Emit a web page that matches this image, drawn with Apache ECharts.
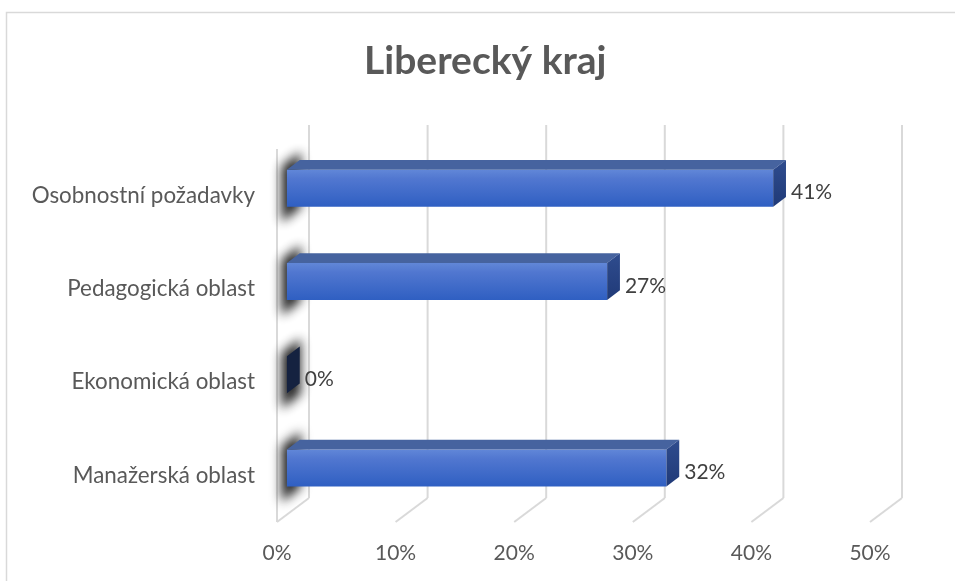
<!DOCTYPE html>
<html>
<head>
    <meta charset="UTF-8">
    <title>Liberecký kraj</title>
    <script src="https://cdn.jsdelivr.net/npm/echarts@6/dist/echarts.min.js"></script>
    <style>
        html, body { margin: 0; padding: 0; background: #fff; }
        #chart { width: 955px; height: 581px; }
    </style>
</head>
<body>
<div id="chart"></div>
<script>
    const categories = ['Manažerská oblast', 'Ekonomická oblast', 'Pedagogická oblast', 'Osobnostní požadavky']
    const values = [32, 0, 27, 41]
    const ticks = [0, 10, 20, 30, 40, 50]

    const FONT = 'Lato'
    const DX = 32, DY = -24   // back wall offset
    const T_FRONT = 0.31, T_BACK = 0.71 // bar depth
    const HALF = 18.5

    let chart = echarts.init(document.getElementById('chart'), null, {renderer: 'canvas'})

    function renderGrid(params, api) {
        let cs = params.coordSys
        let x = api.coord([api.value(0), 0])[0]
        let top = cs.y, bottom = cs.y + cs.height
        let style = {stroke: '#d9d9d9', lineWidth: 2}
        let children = [
            {type: 'line', shape: {x1: x + DX, y1: top + DY, x2: x + DX, y2: bottom + DY}, style},
            {type: 'line', shape: {x1: x, y1: bottom, x2: x + DX, y2: bottom + DY}, style},
        ]
        if (api.value(0) === 0) {
            children.push({type: 'line', shape: {x1: x, y1: top, x2: x, y2: bottom}, style})
        }
        return {type: 'group', children}
    }

    function renderBar(params, api) {
        let v = api.value(0), ci = api.value(1)
        let p0 = api.coord([0, ci]), p1 = api.coord([v, ci])
        let x0 = p0[0], x1 = p1[0], yc = p0[1]
        let fx = T_FRONT * DX, fy = T_FRONT * DY, bx = T_BACK * DX, by = T_BACK * DY
        // soft shadow on the left wall, drawn off-canvas so only its blur shows
        let s1 = 0.14, s2 = 0.74, sh = 28, sOff = 2, far = 3000
        let shadow = {
            type: 'polygon',
            shape: {points: [
                [x0 + s1 * DX - far, yc + s1 * DY - sh + sOff],
                [x0 + s2 * DX - far, yc + s2 * DY - sh + sOff],
                [x0 + s2 * DX - far, yc + s2 * DY + sh + sOff],
                [x0 + s1 * DX - far, yc + s1 * DY + sh + sOff],
            ]},
            style: {fill: '#000', shadowColor: 'rgba(25,25,25,0.95)', shadowBlur: 11, shadowOffsetX: far}
        }
        let front = {
            type: 'rect',
            shape: {x: x0 + fx, y: yc + fy - HALF, width: x1 - x0, height: 2 * HALF},
            style: {fill: new echarts.graphic.LinearGradient(0, 0, 0, 1, [
                {offset: 0, color: '#6187d8'},
                {offset: 0.25, color: '#5177d0'},
                {offset: 1, color: '#2f5fc2'}
            ])}
        }
        let topFace = {
            type: 'polygon',
            shape: {points: [
                [x0 + fx, yc + fy - HALF], [x1 + fx, yc + fy - HALF],
                [x1 + bx, yc + by - HALF], [x0 + bx, yc + by - HALF]
            ]},
            style: {fill: '#46639f'}
        }
        let right = {
            type: 'polygon',
            shape: {points: [
                [x1 + fx, yc + fy - HALF], [x1 + bx, yc + by - HALF],
                [x1 + bx, yc + by + HALF], [x1 + fx, yc + fy + HALF]
            ]},
            style: {fill: v === 0 ? '#152240' : new echarts.graphic.LinearGradient(0, 0, 0, 1, [
                {offset: 0, color: '#2f4c8e'},
                {offset: 1, color: '#203a78'}
            ])}
        }
        let label = {
            type: 'text',
            x: x1 + bx + 5, y: yc - 3,
            style: {text: v + '%', fill: '#404040', font: '21px ' + FONT, align: 'left', verticalAlign: 'middle'}
        }
        return {type: 'group', children: [shadow, front, topFace, right, label]}
    }

    let option = {
        animation: false,
        backgroundColor: '#fff',
        title: {
            text: 'Liberecký kraj',
            left: 364, top: 42, padding: 0,
            textStyle: {fontFamily: FONT, fontSize: 39, fontWeight: 'bold', color: '#595959'}
        },
        graphic: [{
            type: 'rect', silent: true,
            shape: {x: 6.5, y: 12.5, width: 960, height: 600},
            style: {fill: 'none', stroke: '#d9d9d9', lineWidth: 1.5}
        }],
        grid: {left: 277, right: 85, top: 149, bottom: 59},
        xAxis: {
            type: 'value', min: 0, max: 50, interval: 10,
            axisLine: {show: false}, axisTick: {show: false}, splitLine: {show: false},
            axisLabel: {formatter: '{value}%', margin: 21, fontFamily: FONT, fontSize: 21, color: '#595959'}
        },
        yAxis: {
            type: 'category', data: categories,
            axisLine: {show: false}, axisTick: {show: false}, splitLine: {show: false},
            axisLabel: {margin: 22, fontFamily: FONT, fontSize: 22.4, color: '#595959', padding: [14, 0, 0, 0]}
        },
        series: [
            {
                type: 'custom', renderItem: renderGrid, clip: false, z: 1,
                data: ticks.map(t => [t, 0])
            },
            {
                type: 'custom', renderItem: renderBar, clip: false, z: 2,
                data: values.map((v, i) => [v, i])
            }
        ]
    }
    chart.setOption(option)
</script>
</body>
</html>
